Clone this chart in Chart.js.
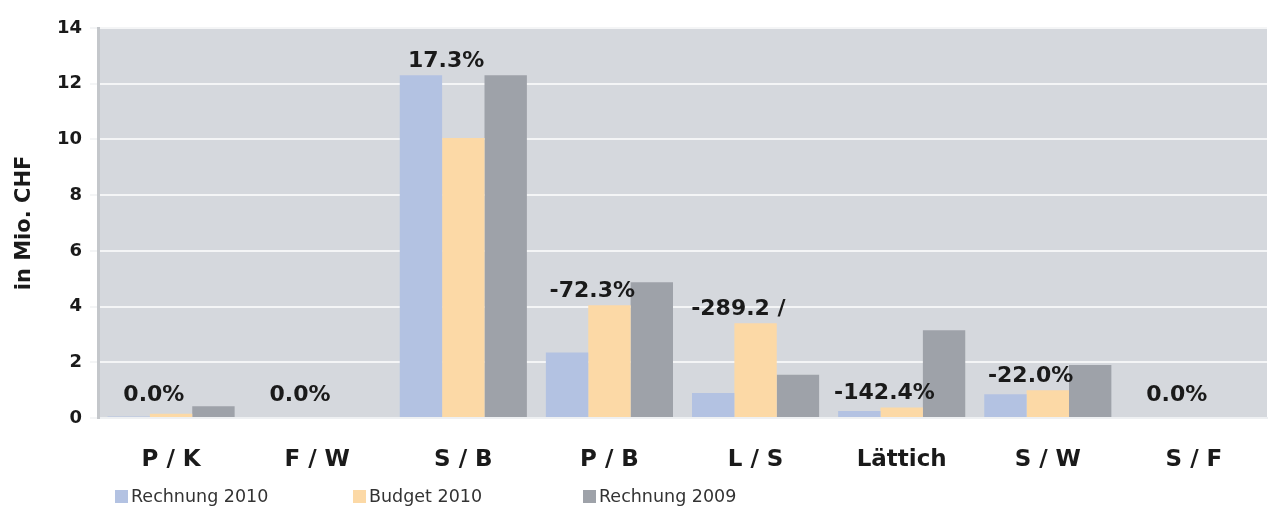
<!DOCTYPE html>
<html>
<head>
<meta charset="utf-8">
<script src="https://cdn.jsdelivr.net/npm/chart.js@4"></script>
<style>
  html, body { margin: 0; padding: 0; background: #fff; }
  #wrap { width: 1276px; height: 513px; }
</style>
</head>
<body>
<div id="wrap"><canvas id="chart" width="1276" height="513"></canvas></div>
<script>
// Daten
const categories = ['P / K', 'F / W', 'S / B', 'P / B', 'L / S', 'Lättich', 'S / W', 'S / F'];
const rechnung2010 = [0.05, 0, 12.3, 2.35, 0.9, 0.25, 0.85, 0];
const budget2010 = [0.15, 0, 10.05, 4.05, 3.4, 0.38, 1.0, 0];
const rechnung2009 = [0.42, 0, 12.3, 4.87, 1.55, 3.15, 1.9, 0];
const abweichung = ['0.0%', '0.0%', '17.3%', '-72.3%', '-289.2 /', '-142.4%', '-22.0%', '0.0%'];
const yTicks = [0, 2, 4, 6, 8, 10, 12, 14];

const FONT = '"DejaVu Sans", Arial, sans-serif';

// Hintergrund der Plotfläche
const plotBg = {
  id: 'plotBg',
  beforeDraw(chart) {
    const { ctx, chartArea: a } = chart;
    ctx.save();
    ctx.fillStyle = '#d5d8dd';
    ctx.fillRect(a.left, a.top, a.right - a.left, a.bottom - a.top);
    ctx.restore();
  }
};

// Prozent-Beschriftung über Blau/Gelb
const pctLabels = {
  id: 'pctLabels',
  afterDatasetsDraw(chart) {
    const { ctx, chartArea } = chart;
    const m0 = chart.getDatasetMeta(0).data;
    const m1 = chart.getDatasetMeta(1).data;
    ctx.save();
    ctx.font = 'bold 22px ' + FONT;
    ctx.fillStyle = '#1a1a1a';
    ctx.textAlign = 'center';
    ctx.textBaseline = 'bottom';
    abweichung.forEach((txt, i) => {
      const x = (m0[i].x + m1[i].x) / 2 + 4;
      const y = Math.min(m0[i].y - 3, m1[i].y - 3, chartArea.bottom - 12);
      ctx.fillText(txt, x, y);
    });
    ctx.restore();
  }
};

// Legende unten links (eigene Zeichnung, Abstände wie im Original)
const legendX = [115, 353, 583];
const bottomLegend = {
  id: 'bottomLegend',
  afterDraw(chart) {
    const { ctx } = chart;
    const y = 497;
    ctx.save();
    ctx.font = '17.5px ' + FONT;
    ctx.textBaseline = 'middle';
    ctx.textAlign = 'left';
    chart.data.datasets.forEach((ds, i) => {
      const x = legendX[i];
      ctx.fillStyle = ds.backgroundColor;
      ctx.fillRect(x, y - 7, 13, 13);
      ctx.fillStyle = '#333';
      ctx.fillText(ds.label, x + 16, y);
    });
    ctx.restore();
  }
};

new Chart(document.getElementById('chart'), {
  type: 'bar',
  data: {
    labels: categories,
    datasets: [
      { label: 'Rechnung 2010', data: rechnung2010, backgroundColor: '#b3c2e2' },
      { label: 'Budget 2010', data: budget2010, backgroundColor: '#fcd9a6' },
      { label: 'Rechnung 2009', data: rechnung2009, backgroundColor: '#9ea2a9' }
    ]
  },
  options: {
    responsive: false,
    animation: false,
    categoryPercentage: 0.87,
    barPercentage: 1.0,
    layout: { padding: { top: 28, right: 9, left: 0, bottom: 40 } },
    plugins: {
      legend: { display: false },
      tooltip: { enabled: false }
    },
    scales: {
      x: {
        grid: { display: false },
        border: { color: '#eef0f2', width: 2 },
        ticks: {
          color: '#1a1a1a',
          padding: 20,
          font: { family: FONT, size: 23, weight: 'bold' }
        },
        afterFit(scale) { scale.height = 55; }
      },
      y: {
        min: 0,
        max: 14,
        afterBuildTicks(scale) { scale.ticks = yTicks.map(v => ({ value: v })); },
        grid: { color: '#f4f5f6', lineWidth: 2, drawTicks: true, tickLength: 8 },
        border: { color: '#c4c7cb', width: 3 },
        ticks: {
          color: '#1a1a1a',
          padding: 8,
          font: { family: FONT, size: 18, weight: 'bold' }
        },
        title: {
          display: true,
          text: 'in Mio. CHF',
          color: '#1a1a1a',
          padding: { top: 12, bottom: 2 },
          font: { family: FONT, size: 21, weight: 'bold' }
        },
        afterFit(scale) { scale.width = 98; }
      }
    }
  },
  plugins: [plotBg, pctLabels, bottomLegend]
});
</script>
</body>
</html>
